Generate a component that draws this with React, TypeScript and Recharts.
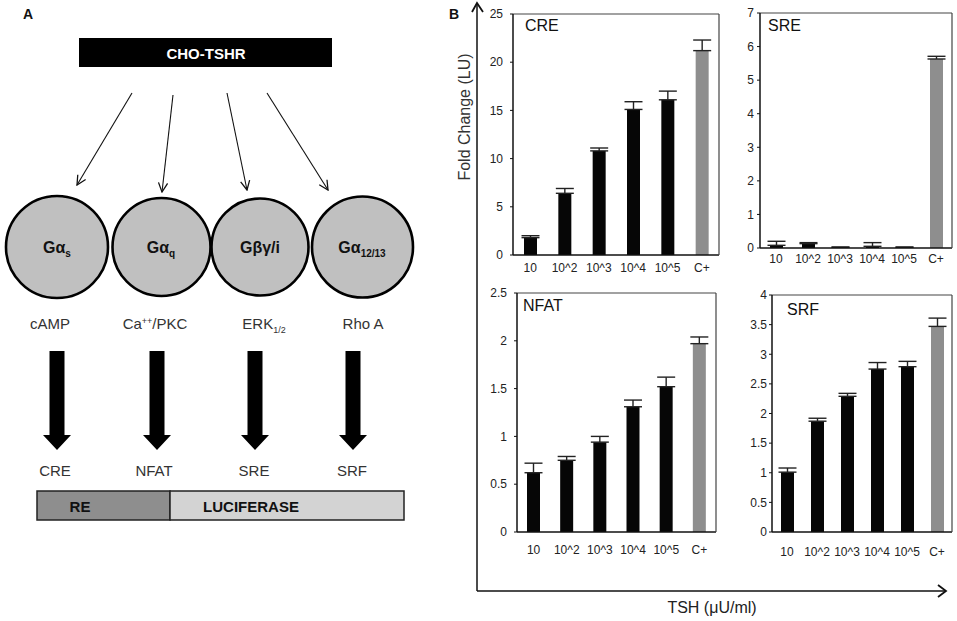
import React from "react";
import { ComposedChart, Bar, Line, XAxis, YAxis, ErrorBar, Cell } from "recharts";

const categories = ["10", "10^2", "10^3", "10^4", "10^5", "C+"];

const creValues = [1.8, 6.4, 10.8, 15.1, 16.1, 21.2];
const creErrors = [0.2, 0.5, 0.3, 0.8, 0.9, 1.1];
const creTicks = [0, 5, 10, 15, 20, 25];

const sreValues = [0.08, 0.13, 0.02, 0.05, 0.02, 5.63];
const sreErrors = [0.12, 0.03, 0.01, 0.11, 0.01, 0.08];
const sreTicks = [0, 1, 2, 3, 4, 5, 6, 7];

const nfatValues = [0.62, 0.75, 0.94, 1.31, 1.52, 1.97];
const nfatErrors = [0.1, 0.04, 0.06, 0.07, 0.1, 0.07];
const nfatTicks = [0, 0.5, 1, 1.5, 2, 2.5];

const srfValues = [1.01, 1.87, 2.29, 2.75, 2.79, 3.47];
const srfErrors = [0.07, 0.05, 0.05, 0.11, 0.09, 0.14];
const srfTicks = [0, 0.5, 1, 1.5, 2, 2.5, 3, 3.5, 4];

const FONT = "'Liberation Sans', Arial, sans-serif";

type PanelProps = {
  left: number;
  top: number;
  width: number;
  height: number;
  values: number[];
  errors: number[];
  ticks: number[];
  title: string;
  titleLeft: number;
  titleTop: number;
  yWidth: number;
  marginTop: number;
  marginRight: number;
  yGap: number;
  xGap: number;
};

function Panel(p: PanelProps) {
  const data = categories.map((c, i) => ({
    cat: c,
    v: p.values[i],
    err: [0, p.errors[i]],
  }));
  const max = p.ticks[p.ticks.length - 1];
  const tickStyle = { fontSize: 12, fill: "#222", fontFamily: FONT };
  return (
    <div style={{ position: "absolute", left: p.left, top: p.top }}>
      <ComposedChart
        width={p.width}
        height={p.height}
        data={data}
        margin={{ top: p.marginTop - 1, right: p.marginRight - 1, left: 0, bottom: 0 }}
      >
        <XAxis
          dataKey="cat"
          height={30}
          interval={0}
          tickLine={false}
          tickSize={p.xGap}
          tickMargin={0}
          axisLine={{ stroke: "#111", strokeWidth: 1.5 }}
          tick={tickStyle}
        />
        <XAxis
          xAxisId="top"
          dataKey="cat"
          orientation="top"
          height={1}
          tick={false}
          tickLine={false}
          axisLine={{ stroke: "#444", strokeWidth: 1.2 }}
        />
        <YAxis
          domain={[0, max]}
          ticks={p.ticks}
          width={p.yWidth}
          tickSize={3}
          tickMargin={p.yGap - 3}
          tickLine={{ stroke: "#111" }}
          axisLine={{ stroke: "#111", strokeWidth: 1.5 }}
          tick={tickStyle}
          interval={0}
        />
        <YAxis
          yAxisId="r"
          orientation="right"
          domain={[0, max]}
          width={1}
          tick={false}
          tickLine={false}
          axisLine={{ stroke: "#444", strokeWidth: 1.2 }}
        />
        <Bar dataKey="v" barSize={13} isAnimationActive={false}>
          {data.map((d, i) => (
            <Cell key={i} fill={d.cat === "C+" ? "#8e8e8e" : "#060606"} />
          ))}
          <ErrorBar dataKey="err" width={9} stroke="#222" strokeWidth={1.4} direction="y" />
        </Bar>
        <Line
          xAxisId="top"
          yAxisId="r"
          dataKey="v"
          stroke="none"
          dot={false}
          activeDot={false}
          legendType="none"
          isAnimationActive={false}
        />
      </ComposedChart>
      <div
        style={{
          position: "absolute",
          left: p.titleLeft - p.left,
          top: p.titleTop - p.top,
          fontSize: 16,
          lineHeight: "16px",
          fontFamily: FONT,
          color: "#111",
        }}
      >
        {p.title}
      </div>
    </div>
  );
}

function ThickArrow({ cx }: { cx: number }) {
  const d = `M${cx - 7.5},351 L${cx + 7.5},351 L${cx + 7.5},435 L${cx + 14},435 L${cx},450 L${cx - 14},435 L${cx - 7.5},435 Z`;
  return <path d={d} fill="#000" />;
}

function Diagram() {
  const t = { fontFamily: FONT, fontSize: 15, fill: "#333" } as const;
  const bold16 = { fontFamily: FONT, fontSize: 16, fontWeight: 700 } as const;
  const circles = [
    { cx: 57, r: 51 },
    { cx: 161.5, r: 49 },
    { cx: 260, r: 48.5 },
    { cx: 362.5, r: 50.5 },
  ];
  return (
    <svg width={957} height={621} style={{ position: "absolute", left: 0, top: 0 }}>
      <defs>
        <marker
          id="openHead"
          viewBox="0 0 12 12"
          refX="11"
          refY="6"
          markerWidth="11"
          markerHeight="11"
          orient="auto"
          markerUnits="userSpaceOnUse"
        >
          <path d="M1,1 L11,6 L1,11" fill="none" stroke="#111" strokeWidth="1.4" />
        </marker>
      </defs>
      <text x={23} y={19} style={{ fontFamily: FONT, fontSize: 14, fontWeight: 700 }} fill="#111">A</text>
      <text x={449} y={19} style={{ fontFamily: FONT, fontSize: 14, fontWeight: 700 }} fill="#111">B</text>

      <rect x={79} y={38} width={253} height={29} fill="#000" />
      <text x={206} y={58.5} textAnchor="middle" style={{ fontFamily: FONT, fontSize: 15, fontWeight: 700 }} fill="#fff">CHO-TSHR</text>

      <line x1={132} y1={93} x2={77} y2={185} stroke="#111" strokeWidth={1.1} markerEnd="url(#openHead)" />
      <line x1={173} y1={95} x2={162} y2={192} stroke="#111" strokeWidth={1.1} markerEnd="url(#openHead)" />
      <line x1={227} y1={93} x2={247} y2={190} stroke="#111" strokeWidth={1.1} markerEnd="url(#openHead)" />
      <line x1={267} y1={93} x2={328} y2={190} stroke="#111" strokeWidth={1.1} markerEnd="url(#openHead)" />

      {circles.map((c, i) => (
        <circle key={i} cx={c.cx} cy={247} r={c.r} fill="#c0c0c0" stroke="#000" strokeWidth={2.6} />
      ))}
      <text x={57} y={253} textAnchor="middle" style={bold16} fill="#111">
        Gα<tspan fontSize={10} dy={4}>s</tspan>
      </text>
      <text x={161} y={253} textAnchor="middle" style={bold16} fill="#111">
        Gα<tspan fontSize={10} dy={4}>q</tspan>
      </text>
      <text x={260} y={253} textAnchor="middle" style={bold16} fill="#111">
        Gβγ/i
      </text>
      <text x={362} y={253} textAnchor="middle" style={bold16} fill="#111">
        Gα<tspan fontSize={10} dy={4}>12/13</tspan>
      </text>

      <text x={50} y={329} textAnchor="middle" style={t}>cAMP</text>
      <text x={155} y={329} textAnchor="middle" style={t}>
        Ca<tspan fontSize={9} dy={-5}>++</tspan><tspan dy={5}>/PKC</tspan>
      </text>
      <text x={264} y={329} textAnchor="middle" style={t}>
        ERK<tspan fontSize={9} dy={4}>1/2</tspan>
      </text>
      <text x={363} y={329} textAnchor="middle" style={t}>Rho A</text>

      <ThickArrow cx={57} />
      <ThickArrow cx={157} />
      <ThickArrow cx={255} />
      <ThickArrow cx={353} />

      <text x={55} y={476} textAnchor="middle" style={t}>CRE</text>
      <text x={154} y={476} textAnchor="middle" style={t}>NFAT</text>
      <text x={254} y={476} textAnchor="middle" style={t}>SRE</text>
      <text x={352} y={476} textAnchor="middle" style={t}>SRF</text>

      <rect x={37} y={491} width={133} height={29} fill="#8e8e8e" stroke="#222" strokeWidth={1.5} />
      <rect x={170} y={491} width={234} height={29} fill="#d3d3d3" stroke="#222" strokeWidth={1.5} />
      <text x={80} y={512} textAnchor="middle" style={{ fontFamily: FONT, fontSize: 15, fontWeight: 700 }} fill="#111">RE</text>
      <text x={251} y={512} textAnchor="middle" style={{ fontFamily: FONT, fontSize: 15, fontWeight: 700 }} fill="#111">LUCIFERASE</text>

      <line x1={477} y1={591} x2={477} y2={3} stroke="#111" strokeWidth={1.5} />
      <path d="M472,12 L477,3 L483,12" fill="none" stroke="#111" strokeWidth={1.8} />
      <line x1={477} y1={591} x2={946} y2={591} stroke="#111" strokeWidth={1.5} />
      <path d="M938,585 L946,591 L938,597" fill="none" stroke="#111" strokeWidth={1.8} />
      <text
        x={470}
        y={117}
        textAnchor="middle"
        transform="rotate(-90 470 117)"
        style={{ fontFamily: FONT, fontSize: 16 }}
        fill="#333"
      >
        Fold Change (LU)
      </text>
      <text x={712} y={613} textAnchor="middle" style={{ fontFamily: FONT, fontSize: 16 }} fill="#222">
        TSH (μU/ml)
      </text>
    </svg>
  );
}

export default function App() {
  return (
    <div
      style={{
        position: "absolute",
        left: 0,
        top: 0,
        width: 957,
        height: 621,
        background: "#fff",
        fontFamily: FONT,
      }}
    >
      <Diagram />
      <Panel
        left={470} top={0} width={255} height={285}
        values={creValues} errors={creErrors} ticks={creTicks}
        title="CRE" titleLeft={525} titleTop={18}
        yWidth={43} marginTop={14} marginRight={6} yGap={10} xGap={8}
      />
      <Panel
        left={720} top={0} width={237} height={278}
        values={sreValues} errors={sreErrors} ticks={sreTicks}
        title="SRE" titleLeft={768} titleTop={18}
        yWidth={40} marginTop={13} marginRight={5} yGap={6} xGap={6}
      />
      <Panel
        left={470} top={280} width={250} height={282}
        values={nfatValues} errors={nfatErrors} ticks={nfatTicks}
        title="NFAT" titleLeft={523} titleTop={298}
        yWidth={47} marginTop={13} marginRight={4} yGap={10} xGap={13}
      />
      <Panel
        left={720} top={280} width={237} height={282}
        values={srfValues} errors={srfErrors} ticks={srfTicks}
        title="SRF" titleLeft={787} titleTop={302}
        yWidth={52} marginTop={15} marginRight={5} yGap={5} xGap={15}
      />
    </div>
  );
}
